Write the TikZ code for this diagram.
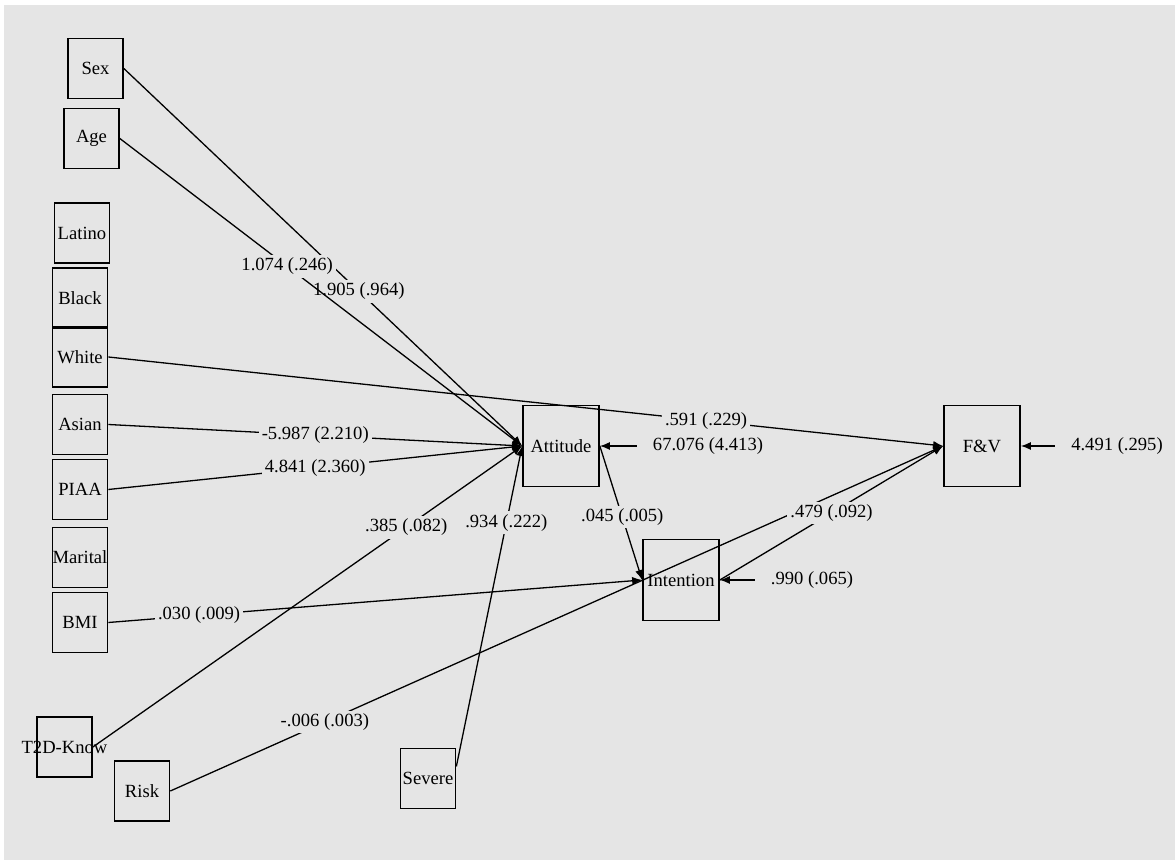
\documentclass[tikz,border=0pt]{standalone}
\usepackage{fontspec}
\setmainfont{Liberation Serif}
\usepackage{tikz}
\usepackage{xcolor}
\usetikzlibrary{positioning,arrows.meta}
\definecolor{bggray}{HTML}{E5E5E5}
\tikzset{
	var/.style={draw,line width=0.85pt,minimum width=27.5pt,minimum height=30pt,inner sep=0pt},
	bigvar/.style={var,minimum width=38pt,minimum height=40.5pt},
	coef/.style={fill=bggray,anchor=center,inner sep=1.5pt},
	errlab/.style={anchor=center,inner sep=1pt},
	link/.style={line width=0.65pt},
}

\begin{document}
\begin{tikzpicture}[x=0.5pt,y=-0.5pt,>={Latex[length=5pt,width=4pt]},font=\fontsize{9.3}{11}\selectfont]
				% Background
				\fill[bggray] (4,5) rectangle (1175,860);
				\useasboundingbox (0,0) rectangle (1175,860);
				% Observed predictors
				\node[var] (Sex) at (95.5,68.5) {Sex};
				\node[var] (Age) at (91.5,138.5) {Age};
				\node[var] (Latino) at (82,233) {Latino};
				\node[var] (Black) at (80,298) {Black};
				\node[var] (White) at (80,357) {White};
				\node[var] (Asian) at (80,424.5) {Asian};
				\node[var] (PIAA) at (80,489.5) {PIAA};
				\node[var] (Marital) at (80,557.5) {Marital};
				\node[var] (BMI) at (80,622.5) {BMI};
				\node[var] (T2D) at (64.5,747) {\makebox[0pt]{T2D-Know}};
				\node[var] (Risk) at (142,791) {Risk};
				\node[var] (Severe) at (428,778.5) {Severe};
				% Outcomes
				\node[bigvar] (Attitude) at (561,446) {Attitude};
				\node[bigvar] (Intention) at (681,580) {Intention};
				\node[bigvar] (FV) at (982,446) {F\&V};
				% Error terms
				\node[errlab] (e_att) at (708,446) {67.076 (4.413)};
				\node[errlab] (e_int) at (812,580) {.990 (.065)};
				\node[errlab] (e_fv) at (1117,446) {4.491 (.295)};
				\path[->] (e_att.west) edge[link,shorten <=7pt] (Attitude.east);
				\path[->] (e_int.west) edge[link,shorten <=7pt] (Intention.east);
				\path[->] (e_fv.west) edge[link,shorten <=7pt] (FV.east);
				% Paths to attitude
				\path[->] (Sex.east) edge[link] node[coef,pos=0.59] (l_sex) {1.905 (.964)} (Attitude.west);
				\path[->] (Age.east) edge[link] node[coef,pos=0.416] (l_age) {1.074 (.246)} (Attitude.west);
				\path[->] (Asian.east) edge[link] node[coef,pos=0.5] (l_asian) {-5.987 (2.210)} (Attitude.west);
				\path[->] (PIAA.east) edge[link] node[coef,pos=0.5] (l_piaa) {4.841 (2.360)} (Attitude.west);
				\path[->] (T2D.east) edge[link] node[coef,pos=0.73] (l_t2d) {.385 (.082)} (Attitude.west);
				\path[->] (Severe.23) edge[link] node[coef,pos=0.76] (l_sev) {.934 (.222)} (Attitude.west);
				% Paths to intention
				\path[->] (Attitude.east) edge[link] node[coef,pos=0.53] (l_att) {.045 (.005)} (Intention.west);
				\path[->] (BMI.east) edge[link] node[coef,pos=0.17] (l_bmi) {.030 (.009)} (Intention.west);
				% Paths to F&V
				\path[->] (White.east) edge[link] node[coef,pos=0.716] (l_white) {.591 (.229)} (FV.west);
				\path[->] (Risk.east) edge[link] node[coef,pos=0.2] (l_risk) {-.006 (.003)} (FV.west);
				\path[->] (Intention.east) edge[link] node[coef,pos=0.5] (l_int) {.479 (.092)} (FV.west);
			\end{tikzpicture}
\end{document}
